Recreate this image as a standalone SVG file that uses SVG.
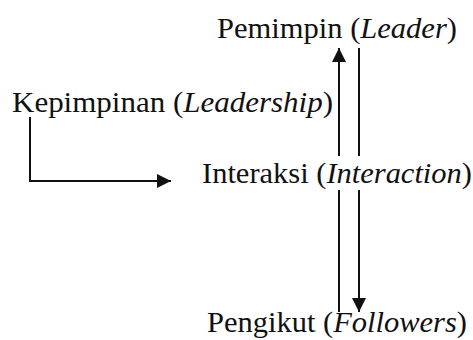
<svg xmlns="http://www.w3.org/2000/svg" width="473" height="340" viewBox="0 0 473 340">
<style>
.t{font-family:"Liberation Serif","Times New Roman",serif;font-size:30px;fill:#111}
.i{font-style:italic}
.c{stroke:#111;stroke-width:2;fill:none}
</style>
<defs>
<marker id="ah" viewBox="0 0 14 14" refX="14" refY="7" markerWidth="14" markerHeight="14" markerUnits="userSpaceOnUse" orient="auto">
<path d="M0,0 L14,7 L0,14 Z" fill="#111"/>
</marker>
</defs>
<rect width="473" height="340" fill="#fff"/>
<g id="connectors">
<path class="c" d="M30,117 V181 H171" marker-end="url(#ah)"/>
<path class="c" d="M339,312 V48" marker-end="url(#ah)"/>
<path class="c" d="M359,48 V312" marker-end="url(#ah)"/>
</g>
<g id="leader">
<text class="t" x="217" y="38" textLength="240" lengthAdjust="spacingAndGlyphs">Pemimpin (<tspan class="i">Leader</tspan>)</text>
</g>
<g id="leadership">
<text class="t" x="12" y="112" textLength="321" lengthAdjust="spacingAndGlyphs">Kepimpinan (<tspan class="i">Leadership</tspan>)</text>
</g>
<g id="interaction">
<rect x="200" y="156" width="273" height="34" fill="#fff"/>
<text class="t" x="202" y="183" textLength="270" lengthAdjust="spacingAndGlyphs">Interaksi (<tspan class="i">Interaction</tspan>)</text>
</g>
<g id="followers">
<text class="t" x="207" y="332" textLength="260" lengthAdjust="spacingAndGlyphs">Pengikut (<tspan class="i">Followers</tspan>)</text>
</g>
</svg>
